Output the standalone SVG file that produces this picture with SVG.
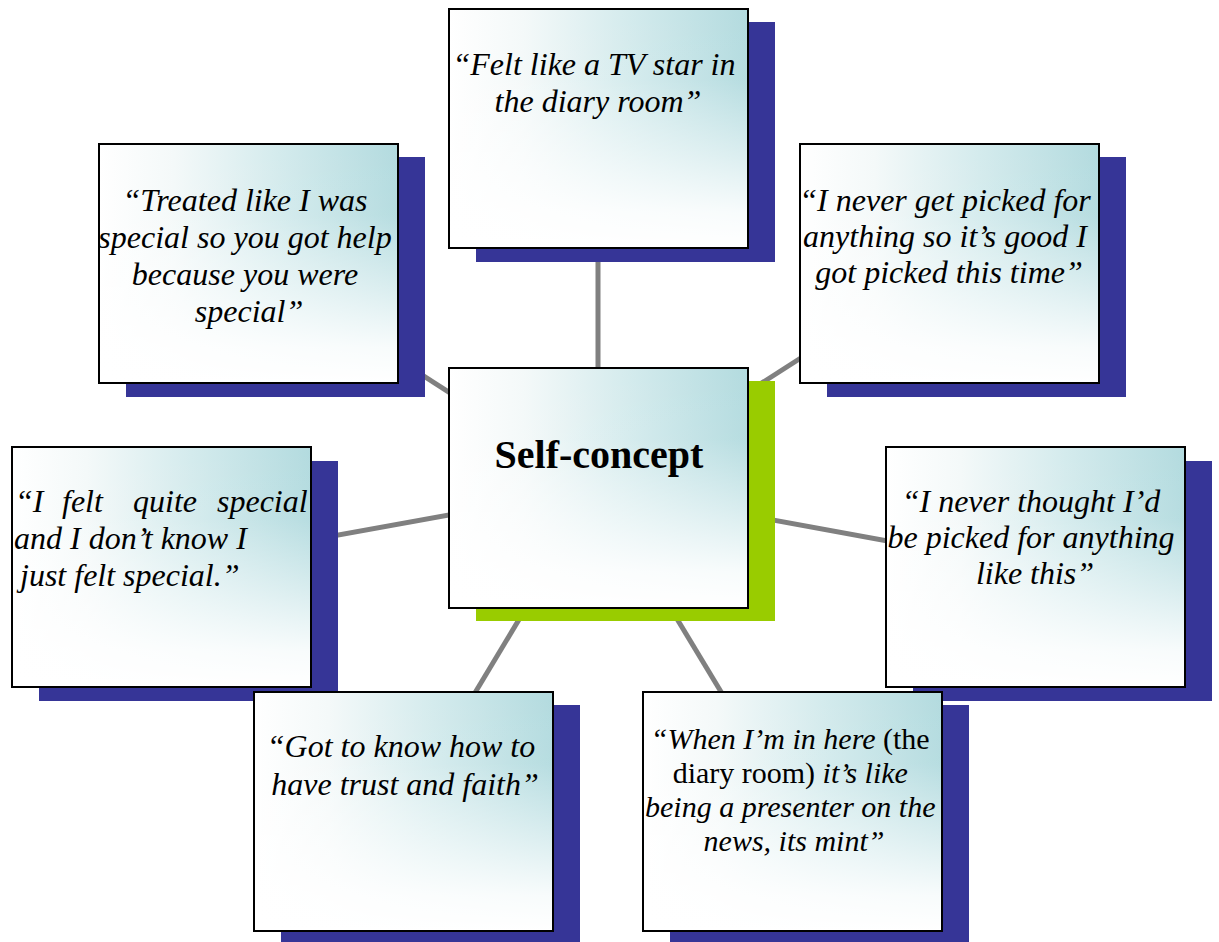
<svg xmlns="http://www.w3.org/2000/svg" width="1219" height="942" viewBox="0 0 1219 942">
  <style>
    .shadow { fill: #363597; }
    .shadow-main { fill: #99cc00; }
    .box { fill: url(#tealH); stroke: none; }
    .fade { fill: url(#fadeV); stroke: #000000; stroke-width: 2; }
    .quote { font-family: "Liberation Serif", "Times New Roman", serif; font-size: 32px; font-style: italic; fill: #000000; }
    .small { font-size: 30px; }
    .upright { font-style: normal; }
    .title { font-family: "Liberation Serif", "Times New Roman", serif; font-size: 40px; font-weight: bold; fill: #000000; }
    .link { stroke: #808080; stroke-width: 5; fill: none; }
  </style>
  <defs>
    <!-- white on the left, soft teal toward the right edge -->
    <linearGradient id="tealH" x1="0" y1="0" x2="1" y2="0">
      <stop offset="0" stop-color="#ffffff"/>
      <stop offset="0.25" stop-color="#f4f9f9"/>
      <stop offset="0.6" stop-color="#d4ebed"/>
      <stop offset="1" stop-color="#b3dbdf"/>
    </linearGradient>
    <!-- washes the teal out toward the bottom edge -->
    <linearGradient id="fadeV" x1="0" y1="0" x2="0" y2="1">
      <stop offset="0" stop-color="#ffffff" stop-opacity="0"/>
      <stop offset="0.3" stop-color="#ffffff" stop-opacity="0.05"/>
      <stop offset="0.6" stop-color="#ffffff" stop-opacity="0.5"/>
      <stop offset="0.85" stop-color="#ffffff" stop-opacity="0.9"/>
      <stop offset="1" stop-color="#ffffff" stop-opacity="1"/>
    </linearGradient>
  </defs>

  <rect width="1219" height="942" fill="#ffffff"/>

  <!-- spokes from the central box to each quote -->
  <g id="connectors">
    <line class="link" x1="598" y1="488" x2="598" y2="128"/>
    <line class="link" x1="598" y1="488" x2="248" y2="263"/>
    <line class="link" x1="598" y1="488" x2="949" y2="263"/>
    <line class="link" x1="598" y1="488" x2="162" y2="567"/>
    <line class="link" x1="598" y1="488" x2="1035" y2="568"/>
    <line class="link" x1="598" y1="488" x2="404" y2="811"/>
    <line class="link" x1="598" y1="488" x2="793" y2="811"/>
  </g>

  <g id="node-tv-star">
    <rect class="shadow" x="476" y="22" width="299" height="240"/>
    <rect class="box" x="449" y="9" width="299" height="239"/>
    <rect class="fade" x="449" y="9" width="299" height="239"/>
    <text class="quote" text-anchor="middle">
      <tspan x="598" y="75">“Felt like a TV star in</tspan>
      <tspan x="598" y="112">the diary room”</tspan>
    </text>
  </g>

  <g id="node-treated-special">
    <rect class="shadow" x="126" y="157" width="299" height="240"/>
    <rect class="box" x="99" y="144" width="299" height="239"/>
    <rect class="fade" x="99" y="144" width="299" height="239"/>
    <text class="quote" text-anchor="middle">
      <tspan x="249" y="211">“Treated like I was</tspan>
      <tspan x="249" y="248">special so you got help</tspan>
      <tspan x="249" y="285">because you were</tspan>
      <tspan x="249" y="322">special”</tspan>
    </text>
  </g>

  <g id="node-picked-this-time">
    <rect class="shadow" x="827" y="157" width="299" height="240"/>
    <rect class="box" x="800" y="144" width="299" height="239"/>
    <rect class="fade" x="800" y="144" width="299" height="239"/>
    <text class="quote" text-anchor="middle">
      <tspan x="949" y="211">“I never get picked for</tspan>
      <tspan x="949" y="247">anything so it’s good I</tspan>
      <tspan x="949" y="283">got picked this time”</tspan>
    </text>
  </g>

  <g id="node-felt-special">
    <rect class="shadow" x="39" y="461" width="299" height="240"/>
    <rect class="box" x="12" y="447" width="299" height="240"/>
    <rect class="fade" x="12" y="447" width="299" height="240"/>
    <!-- first line is justified across the box width -->
    <text class="quote" y="512">
      <tspan x="15">“I</tspan>
      <tspan x="62">felt</tspan>
      <tspan x="133">quite</tspan>
      <tspan x="217">special</tspan>
    </text>
    <text class="quote">
      <tspan x="14" y="549">and I don’t know I</tspan>
      <tspan x="20" y="586">just felt special.”</tspan>
    </text>
  </g>

  <g id="node-never-thought">
    <rect class="shadow" x="913" y="461" width="299" height="240"/>
    <rect class="box" x="886" y="447" width="299" height="240"/>
    <rect class="fade" x="886" y="447" width="299" height="240"/>
    <text class="quote" text-anchor="middle">
      <tspan x="1035" y="512">“I never thought I’d</tspan>
      <tspan x="1035" y="548">be picked for anything</tspan>
      <tspan x="1035" y="584">like this”</tspan>
    </text>
  </g>

  <g id="node-trust-faith">
    <rect class="shadow" x="281" y="705" width="299" height="240"/>
    <rect class="box" x="254" y="692" width="299" height="239"/>
    <rect class="fade" x="254" y="692" width="299" height="239"/>
    <text class="quote" text-anchor="middle">
      <tspan x="405" y="757">“Got to know how to</tspan>
      <tspan x="405" y="795">have trust and faith”</tspan>
    </text>
  </g>

  <g id="node-presenter">
    <rect class="shadow" x="670" y="705" width="299" height="240"/>
    <rect class="box" x="643" y="692" width="299" height="239"/>
    <rect class="fade" x="643" y="692" width="299" height="239"/>
    <text class="quote small" text-anchor="middle">
      <tspan x="794" y="749">“When I’m in here <tspan class="upright">(the</tspan></tspan>
      <tspan x="794" y="783"><tspan class="upright">diary room)</tspan> it’s like</tspan>
      <tspan x="794" y="817">being a presenter on the</tspan>
      <tspan x="794" y="851">news, its mint”</tspan>
    </text>
  </g>

  <g id="node-self-concept">
    <rect class="shadow-main" x="476" y="381" width="299" height="240"/>
    <rect class="box" x="449" y="368" width="299" height="240"/>
    <rect class="fade" x="449" y="368" width="299" height="240"/>
    <text class="title" x="599" y="468" text-anchor="middle">Self-concept</text>
  </g>
</svg>
